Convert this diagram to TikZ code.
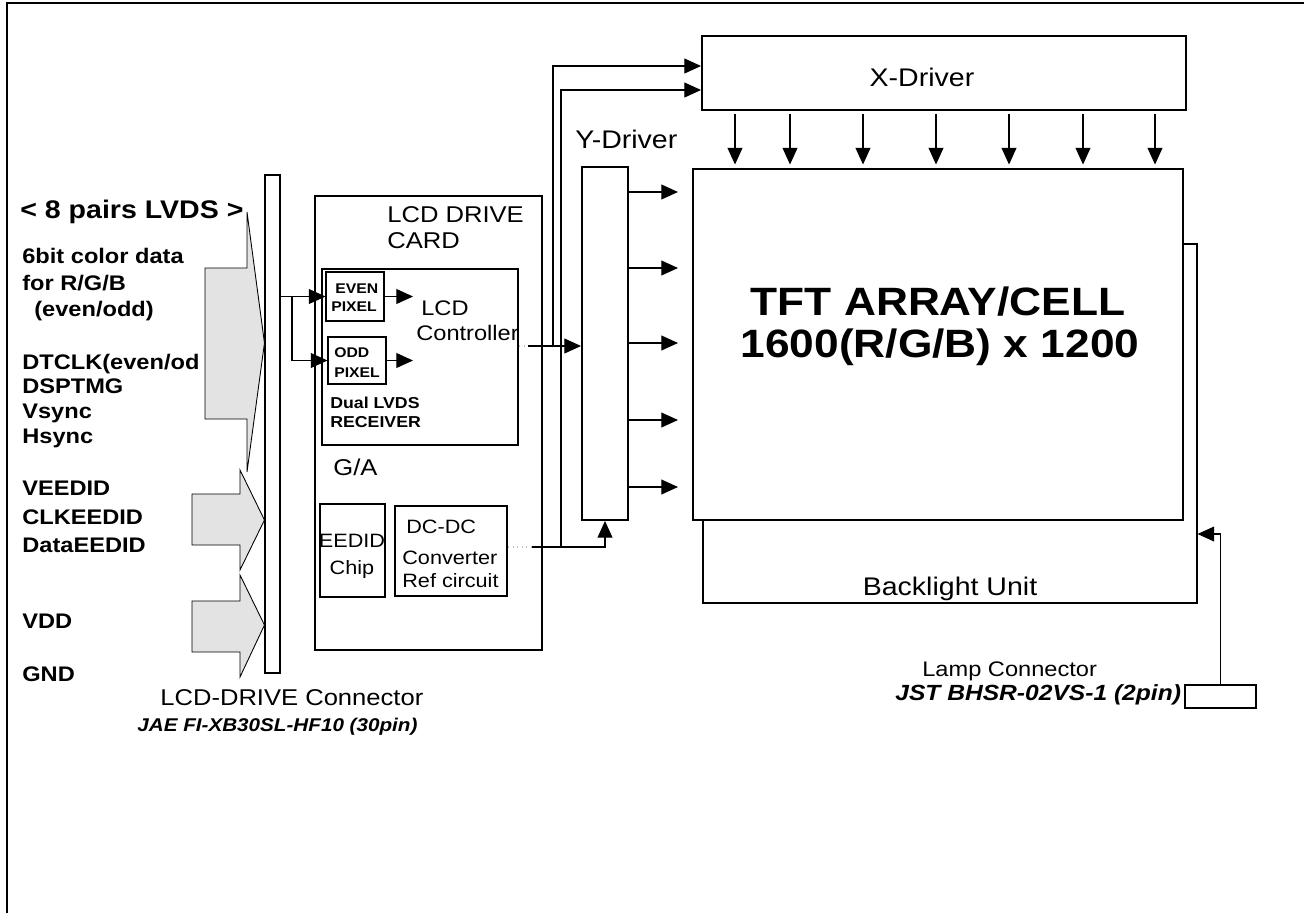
\documentclass[tikz,border=0pt]{standalone}
\usepackage{fontspec}
\setmainfont{Liberation Sans}[FakeStretch=1.12]
\usetikzlibrary{arrows.meta, fit}

\definecolor{arrowGrey}{HTML}{E3E3E3}
\definecolor{dotGrey}{HTML}{BDBDBD}

\newcommand{\fsz}[1]{\fontsize{#1}{#1}\selectfont}

\begin{document}
\begin{tikzpicture}[x=0.02cm, y=-0.02cm,
    heavy/.style={draw, line width=1.1pt, inner sep=0pt, fill=white},
    light/.style={draw, line width=0.6pt, inner sep=0pt, fill=white},
    sig/.style={line width=0.6pt, -{Triangle[length=9.5pt, width=8.5pt]}},
    dotwire/.style={line width=0.6pt, dotGrey, dotted},
    bus/.style={draw, line width=0.5pt, fill=arrowGrey},
    txt/.style={inner sep=0pt, anchor=base west, font=\fsz{#1}},
    txt/.default=13,
    ctxt/.style={inner sep=0pt, anchor=base, font=\fsz{#1}},
    ctxt/.default=13,
    btxt/.style={inner sep=0pt, anchor=base west, font=\fsz{#1}\bfseries},
    btxt/.default=12,
    bitxt/.style={inner sep=0pt, anchor=base west, font=\fsz{#1}\bfseries\itshape}]
  \useasboundingbox (0,0) rectangle (1304,913);
  \draw[line width=1.1pt] (1304,3) -- (7,3) -- (7,913);

  % connecteur LCD-DRIVE et bus d'entree
  \node[light, fit={(265,175) (280,673)}] (bar) {};
  \draw[bus] (205,268) -- (247,268) -- (247,212) -- (bar.west |- 0,343)
    -- (247,472) -- (247,419) -- (205,419) -- cycle;
  \draw[bus] (192,494) -- (240,494) -- (240,470) -- (bar.west |- 0,520)
    -- (240,570) -- (240,545) -- (192,545) -- cycle;
  \draw[bus] (192,601) -- (240,601) -- (240,575) -- (bar.west |- 0,625)
    -- (240,677) -- (240,652) -- (192,652) -- cycle;

  \node[btxt=14.5] (lvds) at (20,218) {< 8 pairs LVDS >};
  \node[btxt] (rgba) at (22,263) {6bit color data};
  \node[btxt] (rgbb) at (22,290) {for R/G/B};
  \node[btxt] (rgbc) at (34,316) {(even/odd)};
  \node[btxt] (dtclk) at (22,369) {DTCLK(even/od};
  \node[btxt] (dsptmg) at (22,393) {DSPTMG};
  \node[btxt] (vsync) at (22,418) {Vsync};
  \node[btxt] (hsync) at (22,443) {Hsync};
  \node[btxt] (veedid) at (22,495) {VEEDID};
  \node[btxt] (clkeedid) at (22,524) {CLKEEDID};
  \node[btxt] (dataeedid) at (22,552) {DataEEDID};
  \node[btxt] (vdd) at (22,628) {VDD};
  \node[btxt] (gnd) at (22,681) {GND};

  \node[txt] (conn) at (160,705) {LCD-DRIVE Connector};
  \node[bitxt=10.5] (connref) at (137,731) {JAE FI-XB30SL-HF10 (30pin)};

  % carte LCD DRIVE
  \node[heavy, fit={(315,196) (542,650)}] (card) {};
  \node[txt] (carda) at (387,222) {LCD DRIVE};
  \node[txt] (cardb) at (387,248) {CARD};
  \node[heavy, fit={(322,269) (518,445)}] (rcv) {};
  \node[light, fit={(326,272) (384,321)}] (even) {};
  \node[light, fit={(328,337) (386,384)}] (odd) {};
  \node[btxt=8] (evena) at (335,293) {EVEN};
  \node[btxt=8] (evenb) at (331,311) {PIXEL};
  \node[btxt=8] (odda) at (334,357) {ODD};
  \node[btxt=8] (oddb) at (334,377) {PIXEL};
  \node[txt=12] (ctla) at (421,315) {LCD};
  \node[txt=12] (ctlb) at (416,340) {Controller};
  \node[btxt=9] (rcva) at (330,408) {Dual LVDS};
  \node[btxt=9] (rcvb) at (330,427) {RECEIVER};
  \node[txt] (ga) at (333,475) {G/A};

  \node[light, fit={(320,504) (385,597)}] (eedid) {};
  \node[ctxt=11] (eedida) at (352,547) {EEDID};
  \node[ctxt=11] (eedidb) at (352,574) {Chip};
  \node[heavy, fit={(395,506) (507,596)}] (dcdc) {};
  \node[txt=11] (dcdca) at (406,533) {DC-DC};
  \node[txt=11] (dcdcb) at (402,564) {Converter};
  \node[txt=11] (dcdcc) at (402,587) {Ref circuit};

  % entrees LVDS
  \coordinate (split) at (292,0);
  \coordinate (ctl) at (413,0);
  \draw[sig] (bar.east |- even.west) -- (even.west);
  \draw[sig] (split |- even.west) |- (odd.west);
  \draw[sig] (even.east) -- (even.east -| ctl);
  \draw[sig] (odd.east) -- (odd.east -| ctl);

  % drivers et dalle
  \node[heavy, fit={(582,167) (628,520)}] (ydrv) {};
  \node[txt=14.5] (ylbl) at (575,148) {Y-Driver};
  \node[heavy, fit={(702,36) (1186,110)}] (xdrv) {};
  \node[ctxt=14.5] (xlbl) at (922,86) {X-Driver};
  \node[light, fit={(703,244) (1197,603)}] (blu) {};
  \node[heavy, fit={(693,169) (1183,520)}] (tft) {};
  \node[ctxt=22.5, font=\fsz{22.5}\bfseries] (tfta) at (938,315) {TFT ARRAY/CELL};
  \node[ctxt=22.5, font=\fsz{22.5}\bfseries] (tftb) at (940,357) {1600(R/G/B) x 1200};
  \node[ctxt=14.5] (blulbl) at (950,595) {Backlight Unit};

  % sorties controleur et DC-DC
  \coordinate (cout) at (528,346);
  \coordinate (xa) at (553,66);
  \draw[dotwire] (rcv.east |- cout) -- (cout);
  \draw[sig] (cout) -- (cout -| ydrv.west);
  \draw[sig] (cout -| xa) -- (xa) -- (xa -| xdrv.west);
  \coordinate (dout) at (532,547);
  \coordinate (xb) at (561,90);
  \draw[dotwire] (dcdc.east |- dout) -- (dout);
  \draw[sig] (dout) -| (ydrv.south);
  \draw[sig] (dout -| xb) -- (xb) -- (xb -| xdrv.west);

  \foreach \y in {192,268,343,420,487}
    \draw[sig, shorten >=8pt] (ydrv.east |- 0,\y) -- (tft.west |- 0,\y);
  \foreach \x in {735,790,863,936,1009,1083,1155}
    \draw[sig, shorten <=1.5pt, shorten >=2pt] (xdrv.south -| \x,0) -- (tft.north -| \x,0);

  % connecteur lampe
  \node[light, fill=none, fit={(1185,685) (1256,708)}] (lamp) {};
  \draw[sig] (lamp.north) |- (blu.east |- 0,534);
  \node[txt=12] (lampa) at (922,676) {Lamp Connector};
  \node[bitxt=12.5] (lampb) at (895,700) {JST BHSR-02VS-1 (2pin)};
\end{tikzpicture}
\end{document}
